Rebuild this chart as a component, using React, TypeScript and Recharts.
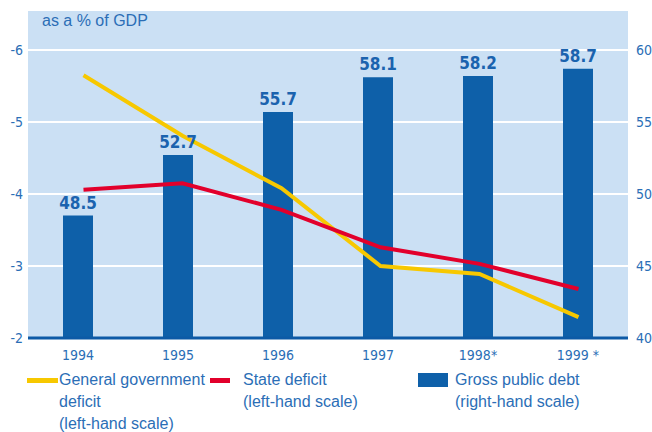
import React from "react";
import {
  ComposedChart,
  Bar,
  Line,
  XAxis,
  YAxis,
  CartesianGrid,
  LabelList,
} from "recharts";

// years shown on the category axis
const years = ["1994", "1995", "1996", "1997", "1998*", "1999 *"];
// left-hand scale (% of GDP, negative = deficit)
const generalDeficit = [-5.65, -4.81, -4.08, -3.0, -2.89, -2.29];
const stateDeficit = [-4.06, -4.15, -3.78, -3.26, -3.03, -2.68];
// right-hand scale
const grossDebt = [48.5, 52.7, 55.7, 58.1, 58.2, 58.7];

const leftTicks = [-6, -5, -4, -3, -2];
const rightTicks = [40, 45, 50, 55, 60];

const data = years.map((y, i) => ({
  year: y,
  general: generalDeficit[i],
  state: stateDeficit[i],
  debt: grossDebt[i],
}));

const BLUE_TEXT = "#2b6eb6";
const BAR = "#0e60a9";
const YELLOW = "#f7c800";
const RED = "#e2002b";
const BG = "#cbe0f4";
const NARROW = '"Liberation Sans Narrow", "DejaVu Sans Condensed", "Liberation Sans", sans-serif';
const SANS = '"Liberation Sans", Arial, sans-serif';

const tickStyle = { fill: BLUE_TEXT, fontSize: 14, fontFamily: NARROW };

export default function App() {
  return (
    <div style={{ position: "absolute", left: 0, top: 0, width: 652, height: 432, background: "#fff" }}>
      <ComposedChart
        width={652}
        height={432}
        data={data}
        margin={{ top: 10, right: 0, bottom: 0, left: 0 }}
      >
        <CartesianGrid
          yAxisId="left"
          xAxisId="bars"
          vertical={false}
          stroke="#ffffff"
          strokeWidth={2}
          fill={BG}
          fillOpacity={1}
        />
        <XAxis
          xAxisId="bars"
          dataKey="year"
          height={94}
          tickLine={false}
          axisLine={{ stroke: "#0d5aa6", strokeWidth: 3 }}
          tickSize={3}
          tickMargin={9}
          tick={tickStyle}
          interval={0}
        />
        <XAxis
          xAxisId="lines"
          dataKey="year"
          hide
          padding={{ left: 6, right: 0 }}
        />
        <YAxis
          yAxisId="left"
          orientation="left"
          width={28}
          domain={[-6.5556, -2]}
          reversed
          ticks={leftTicks}
          allowDataOverflow
          tickLine={false}
          axisLine={false}
          tickSize={3}
          tickMargin={2}
          tick={tickStyle}
        />
        <YAxis
          yAxisId="right"
          orientation="right"
          width={24}
          domain={[40, 62.778]}
          ticks={rightTicks}
          allowDataOverflow
          tickLine={false}
          axisLine={false}
          tick={tickStyle}
        />
        <Bar
          xAxisId="bars"
          yAxisId="right"
          dataKey="debt"
          fill={BAR}
          barSize={30}
          isAnimationActive={false}
        >
          <LabelList
            dataKey="debt"
            position="top"
            offset={7}
            fill="#1b63ae"
            fontSize={17}
            fontWeight="bold"
            fontFamily={NARROW}
            formatter={(v: number) => v.toFixed(1)}
          />
        </Bar>
        <Line
          xAxisId="lines"
          yAxisId="left"
          dataKey="general"
          stroke={YELLOW}
          strokeWidth={4}
          dot={false}
          strokeLinejoin="miter"
          isAnimationActive={false}
        />
        <Line
          xAxisId="lines"
          yAxisId="left"
          dataKey="state"
          stroke={RED}
          strokeWidth={4}
          dot={false}
          strokeLinejoin="miter"
          isAnimationActive={false}
        />
      </ComposedChart>

      <div
        style={{
          position: "absolute",
          left: 42,
          top: 12,
          fontFamily: SANS,
          fontSize: 16,
          color: BLUE_TEXT,
          whiteSpace: "nowrap",
        }}
      >
        as a % of GDP
      </div>

      {/* legend */}
      <div style={{ position: "absolute", left: 27, top: 378, width: 31, height: 5, background: YELLOW }} />
      <div
        style={{
          position: "absolute",
          left: 59,
          top: 369,
          fontFamily: SANS,
          fontSize: 16,
          lineHeight: "22px",
          color: BLUE_TEXT,
          whiteSpace: "nowrap",
        }}
      >
        General government
        <br />
        deficit
        <br />
        (left-hand scale)
      </div>
      <div style={{ position: "absolute", left: 210, top: 378, width: 20, height: 5, background: RED }} />
      <div
        style={{
          position: "absolute",
          left: 243,
          top: 369,
          fontFamily: SANS,
          fontSize: 16,
          lineHeight: "22px",
          color: BLUE_TEXT,
          whiteSpace: "nowrap",
        }}
      >
        State deficit
        <br />
        (left-hand scale)
      </div>
      <div style={{ position: "absolute", left: 418, top: 373, width: 30, height: 14, background: BAR }} />
      <div
        style={{
          position: "absolute",
          left: 455,
          top: 369,
          fontFamily: SANS,
          fontSize: 16,
          lineHeight: "22px",
          color: BLUE_TEXT,
          whiteSpace: "nowrap",
        }}
      >
        Gross public debt
        <br />
        (right-hand scale)
      </div>
    </div>
  );
}
